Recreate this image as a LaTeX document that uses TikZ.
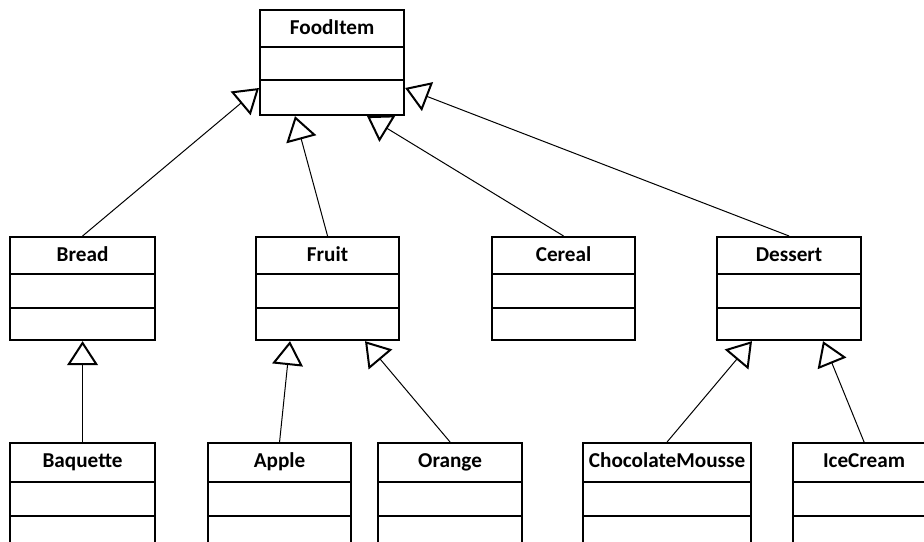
\documentclass[tikz,border=0pt]{standalone}
\usepackage{fontspec}
\setmainfont{Carlito}
\usetikzlibrary{arrows.meta}

\tikzset{
  boxframe/.style={draw, line width=1.6pt, rectangle, anchor=north west, inner sep=0pt},
  boxtitle/.style={font=\bfseries\fontsize{15.9}{18}\selectfont, inner sep=0pt, anchor=base},
  divider/.style={line width=1.6pt},
  inherit/.style={line width=0.75pt,
    -{Triangle[open, length=18pt, width=23pt, line width=1.5pt]}},
}

% #1 name, #2 x, #3 y, #4 width, #5 height, #6 first divider, #7 second divider, #8 title
\newcommand{\umlbox}[8]{%
  \node[boxframe, minimum width=#4*0.75pt, minimum height=#5*0.75pt] (#1) at (#2,#3) {};
  \node[boxtitle] (#1-title) at ([yshift=-25.5*0.75pt]#1.north) {#8};
  \draw[divider] ([yshift=-#6*0.75pt]#1.north west) -- ([yshift=-#6*0.75pt]#1.north east);
  \draw[divider] ([yshift=-#7*0.75pt]#1.north west) -- ([yshift=-#7*0.75pt]#1.north east);
}

\begin{document}
\begin{tikzpicture}[x=0.75pt, y=-0.75pt]
  \clip (0,0) rectangle (924,542);
  \fill[white] (0,0) rectangle (924,542);

  % top level
  \umlbox{food}{259}{9}{144}{105}{38}{71}{FoodItem}

  % second level
  \umlbox{bread}{9}{236}{145}{103}{38}{72}{Bread}
  \umlbox{fruit}{255}{236}{143}{103}{38}{72}{Fruit}
  \umlbox{cereal}{491}{236}{143}{103}{38}{72}{Cereal}
  \umlbox{dessert}{716}{236}{144}{103}{38}{72}{Dessert}

  % third level (runs past the lower edge)
  \umlbox{baquette}{9}{442}{145}{106}{40}{74}{Baquette}
  \umlbox{apple}{207}{442}{143}{106}{40}{74}{Apple}
  \umlbox{orange}{377}{442}{144}{106}{40}{74}{Orange}
  \umlbox{mousse}{582}{442}{168}{106}{40}{74}{ChocolateMousse}
  \umlbox{icecream}{792}{442}{142}{106}{40}{74}{IceCream}

  % generalisations
  \draw[inherit] (bread.north) -- ([yshift=-59.25pt]food.north west);
  \draw[inherit] (fruit.north) -- ([xshift=27pt]food.south west);
  \draw[inherit] (cereal.north) -- ([xshift=81pt]food.south west);
  \draw[inherit] (dessert.north) -- ([yshift=-59.25pt]food.north east);

  \draw[inherit] (baquette.north) -- (bread.south);
  \draw[inherit] (apple.north) -- ([xshift=26.25pt]fruit.south west);
  \draw[inherit] (orange.north) -- ([xshift=82.5pt]fruit.south west);
  \draw[inherit] (mousse.north) -- ([xshift=27pt]dessert.south west);
  \draw[inherit] (icecream.north) -- ([xshift=80.25pt]dessert.south west);
\end{tikzpicture}
\end{document}
